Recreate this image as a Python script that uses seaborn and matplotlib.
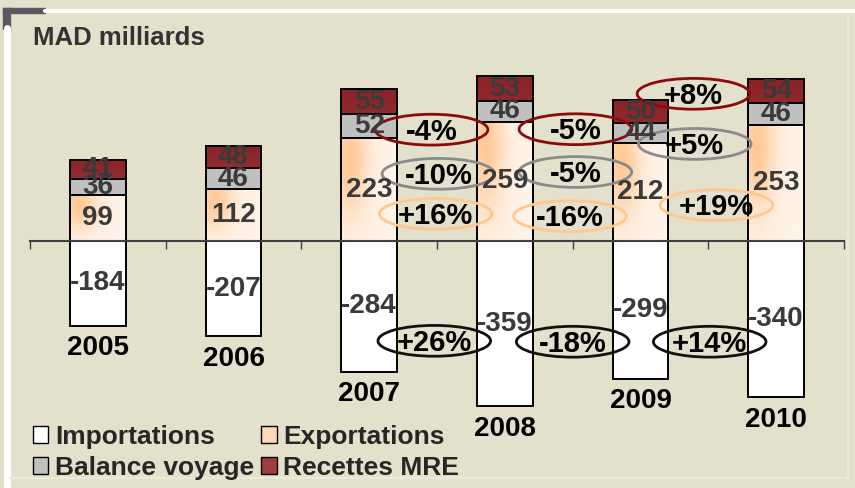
import numpy as np
import matplotlib
matplotlib.use("Agg")
import matplotlib.pyplot as plt
from matplotlib.patches import Ellipse, Patch, Rectangle
from matplotlib.lines import Line2D
import seaborn as sns

# ---------------- data ----------------
years = ['2005', '2006', '2007', '2008', '2009', '2010']
importations = [-184, -207, -284, -359, -299, -340]
exportations = [99, 112, 223, 259, 212, 253]
balance_voyage = [36, 46, 52, 46, 44, 46]
recettes_mre = [41, 48, 55, 53, 50, 54]

pct_mre = ['-4%', '-5%', '+8%']
pct_bal = ['-10%', '-5%', '+5%']
pct_exp = ['+16%', '-16%', '+19%']
pct_imp = ['+26%', '-18%', '+14%']

legend_labels = ['Importations', 'Exportations', 'Balance voyage', 'Recettes MRE']
title = 'MAD milliards'

# ---------------- style ----------------
sns.set_theme(style='white')
plt.rcParams['font.family'] = ['Liberation Sans', 'DejaVu Sans']

BG = '#E3E0CC'
C_IMP = '#FFFFFF'
C_BAL = '#C0C0C0'
C_MRE = '#A03C40'
C_EXP = '#FFD8B6'
VAL_COLOR = '#3A3A3A'
FS = 20
FS_PCT = 21

W, H = 855, 488
fig = plt.figure(figsize=(W / 100, H / 100), dpi=100, facecolor=BG)

# axes placement (pixels)
ax_left, ax_right, ax_top, ax_bot, y0_px, px_per_unit = 30, 844, 60, 470, 241, 0.46
ax = fig.add_axes([ax_left / W, 1 - ax_bot / H, (ax_right - ax_left) / W, (ax_bot - ax_top) / H])
ax.set_facecolor('none')

# decorative frame
fig.add_artist(Line2D([45 / W, 1], [1 - 11 / H] * 2, color='white', lw=3, transform=fig.transFigure))
fig.add_artist(Line2D([6.5 / W] * 2, [1 - 28 / H, 0], color='white', lw=5, transform=fig.transFigure))
fig.add_artist(Rectangle((3 / W, 1 - 13 / H), 42 / W, 5 / H, color='#5B5660', transform=fig.transFigure))
fig.add_artist(Rectangle((3 / W, 1 - 29 / H), 7 / W, 21 / H, color='#5B5660', transform=fig.transFigure))
fig.add_artist(Line2D([848 / W] * 2, [1 - 15 / H, 1 - 478 / H], color='#ECEADA', lw=1.5, transform=fig.transFigure))
fig.add_artist(Line2D([10 / W, 848 / W], [1 - 478 / H] * 2, color='#ECEADA', lw=1.5, transform=fig.transFigure))

exp_bal = [e + b for e, b in zip(exportations, balance_voyage)]
total = [e + b + m for e, b, m in zip(exportations, balance_voyage, recettes_mre)]

common = dict(order=years, width=0.41, saturation=1, edgecolor='black', linewidth=1.4,
              errorbar=None, ax=ax)


def layer(values, color, z):
    n0 = len(ax.patches)
    sns.barplot(x=years, y=values, color=color, zorder=z, **common)
    return ax.patches[n0:]


red_p = layer(total, C_MRE, 2.1)
gray_p = layer(exp_bal, C_BAL, 2.2)
exp_p = layer(exportations, C_EXP, 2.4)
imp_p = layer(importations, C_IMP, 2.2)

# gradients
uu, vv = np.meshgrid(np.linspace(0, 1, 60), np.linspace(0, 1, 120))
w = np.exp(-((uu - 0.15) / 0.33) ** 2 - ((vv - 0.8) / 0.55) ** 2)
light = np.array([1.0, 0.95, 0.905])
orange = np.array([1.0, 0.79, 0.59])
grad_exp = light + w[..., None] * (orange - light)

top_red = np.array([0x8A, 0x22, 0x26]) / 255
bot_red = np.array([0xB3, 0x52, 0x56]) / 255
grad_red = bot_red + vv[..., None] * (top_red - bot_red)


def paint(patches, grad, zimg):
    for p in patches:
        x0, y0 = p.get_x(), p.get_y()
        wdt, hgt = p.get_width(), p.get_height()
        im = ax.imshow(grad, extent=[x0, x0 + wdt, y0, y0 + hgt], origin='lower',
                       aspect='auto', zorder=zimg, interpolation='bilinear')
        im.set_clip_path(p)
        p.set_facecolor('none')


paint(red_p, grad_red, 2.05)
paint(exp_p, grad_exp, 2.3)

# value labels
for i in range(len(years)):
    segs = [(0, exportations[i]), (exportations[i], balance_voyage[i]),
            (exp_bal[i], recettes_mre[i]), (0, importations[i])]
    for b, h in segs:
        ax.text(i, b + h / 2, f'{h}', ha='center', va='center', fontsize=FS,
                fontweight='bold', color=VAL_COLOR, zorder=6)
    ax.annotate(years[i], (i, importations[i]), xytext=(0, -7), textcoords='offset points',
                ha='center', va='top', fontsize=FS, fontweight='bold', color='black', zorder=6)

# percentage ellipses (layout positions in data coords)
ell_w, ell_h = 0.83, 67
ell_layout = {
    'mre': ([2.46, 3.52, 4.39], [242, 243, 320], '#8B0A0A'),
    'bal': ([2.51, 3.52, 4.40], [146, 150, 211], '#8A8A8A'),
    'exp': ([2.49, 3.48, 4.56], [59, 54, 78], '#FFC890'),
    'imp': ([2.48, 3.50, 4.51], [-217, -219, -219], '#111111'),
}
pct_map = {'mre': pct_mre, 'bal': pct_bal, 'exp': pct_exp, 'imp': pct_imp}
for key, (xs, ys, col) in ell_layout.items():
    for x, y, lab in zip(xs, ys, pct_map[key]):
        ax.add_patch(Ellipse((x, y), ell_w, ell_h, facecolor='none', edgecolor=col, lw=2, zorder=5))
        ax.text(x, y - 4, lab, ha='center', va='center', fontsize=FS_PCT, fontweight='bold',
                color='black', zorder=7)

# axes styling
y_top = (y0_px - ax_top) / px_per_unit
y_bot = (y0_px - ax_bot) / px_per_unit
ax.set_ylim(y_bot, y_top)
ax.set_xlim(-0.5, len(years) - 0.5)
for s in ['top', 'left', 'right']:
    ax.spines[s].set_visible(False)
ax.spines['bottom'].set_position(('data', 0))
ax.spines['bottom'].set_color('#404040')
ax.spines['bottom'].set_linewidth(1.5)
ax.spines['bottom'].set_zorder(3)
ax.set_xticks(np.arange(-0.5, len(years), 1.0))
ax.set_xticklabels([])
ax.tick_params(axis='x', direction='out', length=6, width=1, color='#404040', bottom=True)
ax.set_yticks([])
ax.set_xlabel('')
ax.set_ylabel('')

fig.text(33 / W, 1 - 38 / H, title, ha='left', va='center', fontsize=18.5, fontweight='bold',
         color='#333333')

handles = [Patch(facecolor=C_IMP, edgecolor='black'), Patch(facecolor=C_BAL, edgecolor='black'),
           Patch(facecolor=C_EXP, edgecolor='black'), Patch(facecolor=C_MRE, edgecolor='black')]
labels = [legend_labels[0], legend_labels[2], legend_labels[1], legend_labels[3]]
fig.legend(handles, labels, loc='upper left', bbox_to_anchor=(22 / W, 1 - 414 / H), ncol=2,
           frameon=False, handlelength=0.6, handleheight=0.6, handletextpad=0.25,
           columnspacing=0.25, labelspacing=0.28, borderaxespad=0,
           prop={'weight': 'bold', 'size': 19})

fig.savefig('out.png', dpi=100, facecolor=BG)
